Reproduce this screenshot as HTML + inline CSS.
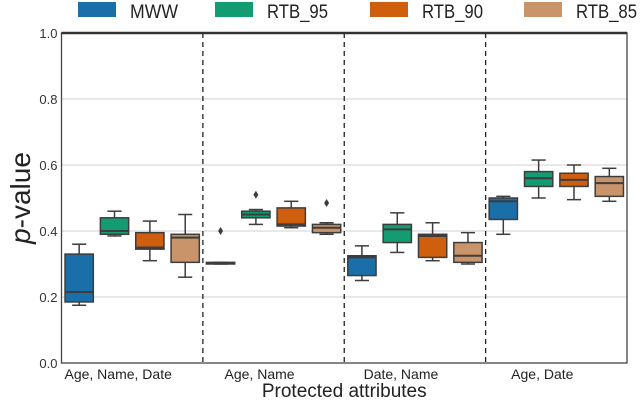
<!DOCTYPE html>
<html><head><meta charset="utf-8"><style>
body{margin:0;background:#fff;}
svg{display:block;font-family:"Liberation Sans",sans-serif;}
</style></head><body>
<svg id="chart" width="640" height="401"></svg>
<script>
const groups=["Age, Name, Date","Age, Name","Date, Name","Age, Date"];
const series=["MWW","RTB_95","RTB_90","RTB_85"];
const colors=["#1a6fa8","#139b72","#cf5f0e","#c99469"];
// [low, q1, median, q3, high]
const mwwStats=[[0.175,0.185,0.215,0.33,0.36],[0.30,0.30,0.303,0.305,0.305],[0.25,0.265,0.32,0.325,0.355],[0.39,0.435,0.49,0.50,0.505]];
const rtb95Stats=[[0.385,0.39,0.40,0.44,0.46],[0.42,0.44,0.45,0.46,0.465],[0.335,0.365,0.405,0.42,0.455],[0.50,0.535,0.56,0.58,0.615]];
const rtb90Stats=[[0.31,0.345,0.35,0.395,0.43],[0.41,0.415,0.42,0.47,0.49],[0.31,0.32,0.385,0.39,0.425],[0.495,0.535,0.555,0.575,0.60]];
const rtb85Stats=[[0.26,0.305,0.38,0.39,0.45],[0.39,0.395,0.41,0.42,0.425],[0.30,0.305,0.325,0.365,0.395],[0.49,0.505,0.545,0.565,0.59]];
const outliers=[[1,0,0.40],[1,1,0.51],[1,3,0.485]]; // [group, series, value]
const yTicks=[0,0.2,0.4,0.6,0.8,1.0];
const allStats=[mwwStats,rtb95Stats,rtb90Stats,rtb85Stats];

const NS="http://www.w3.org/2000/svg";
const svg=document.getElementById('chart');
const L=61.5,R=627,T=33,B=363;
const y=v=>B-(B-T)*v;
const gw=(R-L)/groups.length, slot=gw/4, bw=slot*0.8;
const x=(g,s)=>L+g*gw+slot*(s+0.5);
function mk(tag,attrs,name,parent){const e=document.createElementNS(NS,tag);for(const k in attrs)e.setAttribute(k,attrs[k]);


(parent||svg).appendChild(e);return e;}

mk('rect',{x:L,y:T,width:R-L,height:B-T,fill:'#fff'},'plot-area');
yTicks.forEach(t=>{
  if(t>0&&t<1)mk('line',{x1:L,x2:R,y1:y(t),y2:y(t),stroke:'#d0d0d0','stroke-width':1},'grid-line');
  const tx=mk('text',{x:L-4,y:y(t)+5,'text-anchor':'end','font-size':13,fill:'#333'},'y-tick-label');tx.textContent=t.toFixed(1);
});
for(let g=1;g<groups.length;g++){
  mk('line',{x1:L+g*gw,x2:L+g*gw,y1:T,y2:B,stroke:'#222','stroke-width':1.3,'stroke-dasharray':'5,4'},'group-divider');
}
groups.forEach((gn,g)=>{
  const t=mk('text',{x:L+g*gw+gw/2-14,y:B+16,'text-anchor':'middle','font-size':14,fill:'#222'},'x-tick-label');t.textContent=gn;
  allStats.forEach((st,s)=>{
    const [lo,q1,md,q3,hi]=st[g];const cx=x(g,s);
    const gr=mk('g',{},'box-'+series[s].toLowerCase()+'-'+g);
    mk('line',{x1:cx,x2:cx,y1:y(hi),y2:y(q3),stroke:'#3d3d3d','stroke-width':1.5},'whisker-high',gr);
    mk('line',{x1:cx,x2:cx,y1:y(q1),y2:y(lo),stroke:'#3d3d3d','stroke-width':1.5},'whisker-low',gr);
    mk('line',{x1:cx-bw/4,x2:cx+bw/4,y1:y(hi),y2:y(hi),stroke:'#3d3d3d','stroke-width':1.5},'cap-high',gr);
    mk('line',{x1:cx-bw/4,x2:cx+bw/4,y1:y(lo),y2:y(lo),stroke:'#3d3d3d','stroke-width':1.5},'cap-low',gr);
    mk('rect',{x:cx-bw/2,y:y(q3),width:bw,height:Math.max(1,y(q1)-y(q3)),fill:colors[s],stroke:'#3d3d3d','stroke-width':1.5},'box-body',gr);
    mk('line',{x1:cx-bw/2,x2:cx+bw/2,y1:y(md),y2:y(md),stroke:'#3d3d3d','stroke-width':2},'median-line',gr);
  });
});
outliers.forEach(o=>{
  const cx=x(o[0],o[1]),cy=y(o[2]);
  mk('path',{d:`M${cx},${cy-4} L${cx+2.5},${cy} L${cx},${cy+4} L${cx-2.5},${cy} Z`,fill:'#3d3d3d'},'outlier-marker');
});
mk('rect',{x:L,y:T,width:R-L,height:B-T,fill:'none',stroke:'#444','stroke-width':1.3},'plot-frame');
mk('line',{x1:L,x2:R,y1:T,y2:T,stroke:'#333','stroke-width':2.5},'top-spine');
const yl=mk('text',{x:0,y:0,transform:`translate(30,${(T+B)/2}) rotate(-90)`,'text-anchor':'middle','font-size':28,fill:'#222'},'y-axis-title');
yl.innerHTML='<tspan font-style="italic">p</tspan>-value';
const xl=mk('text',{x:(L+R)/2,y:397,'text-anchor':'middle','font-size':19,fill:'#222'},'x-axis-title');xl.textContent='Protected attributes';
const lx=[78,215,370,524];
series.forEach((sn,s)=>{
  const g=mk('g',{},'legend-entry-'+sn.toLowerCase());
  mk('rect',{x:lx[s],y:2,width:38,height:15,fill:colors[s]},'legend-swatch',g);
  const t=mk('text',{x:lx[s]+52,y:18,'font-size':19,fill:'#222',textLength:sn.length>3?61:48,lengthAdjust:'spacingAndGlyphs'},'legend-label',g);t.textContent=sn;
});
</script>
</body></html>
